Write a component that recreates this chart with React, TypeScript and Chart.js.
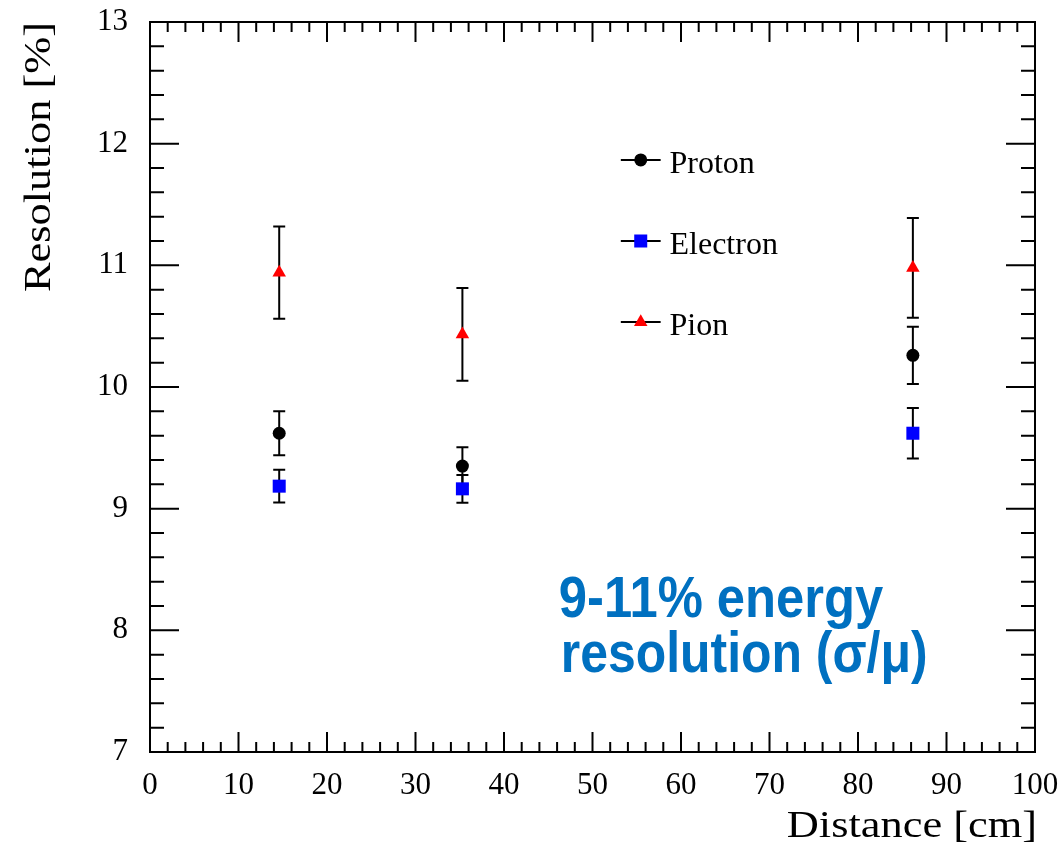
import React, { useEffect, useRef } from "react";
import { Chart, registerables } from "chart.js";
import { drawPoint } from "chart.js/helpers";

Chart.register(...registerables);

const distances = [14.6, 35.3, 86.2];
const protonValues = [9.62, 9.35, 10.26];
const protonErrors = [0.18, 0.154, 0.235];
const electronValues = [9.185, 9.163, 9.62];
const electronErrors = [0.135, 0.114, 0.208];
const pionValues = [10.94, 10.433, 10.98];
const pionErrors = [0.38, 0.381, 0.41];

const xTitle = "Distance [cm]";
const yTitle = "Resolution [%]";
const noteLines = ["9-11% energy", "resolution (σ/μ)"];

const SERIF = "'Liberation Serif', 'Times New Roman', serif";
const SANS = "'Liberation Sans', Arial, sans-serif";

const errorsByDataset = [protonErrors, electronErrors, pionErrors];

const clearPad = (s: any) => {
  s.paddingTop = 0;
  s.paddingBottom = 0;
  s.paddingLeft = 0;
  s.paddingRight = 0;
};

const rootStylePlugin = {
  id: "rootStyle",
  beforeDatasetsDraw(chart: any) {
    const ctx = chart.ctx;
    const ys = chart.scales.y;
    ctx.save();
    ctx.strokeStyle = "#000";
    ctx.lineWidth = 2;
    chart.data.datasets.forEach((ds: any, di: number) => {
      const meta = chart.getDatasetMeta(di);
      const errs = errorsByDataset[di];
      meta.data.forEach((pt: any, i: number) => {
        const v = ds.data[i].y;
        const e = errs[i];
        const yTop = ys.getPixelForValue(v + e);
        const yBot = ys.getPixelForValue(v - e);
        const x = pt.x;
        ctx.beginPath();
        ctx.moveTo(x, yTop);
        ctx.lineTo(x, yBot);
        ctx.moveTo(x - 6, yTop);
        ctx.lineTo(x + 6, yTop);
        ctx.moveTo(x - 6, yBot);
        ctx.lineTo(x + 6, yBot);
        ctx.stroke();
      });
    });
    ctx.restore();
  },
  afterDraw(chart: any) {
    const ctx = chart.ctx;
    const { left, right, top, bottom } = chart.chartArea;
    const xs = chart.scales.x;
    const ys = chart.scales.y;
    ctx.save();
    ctx.strokeStyle = "#000";
    ctx.lineWidth = 2;
    // frame
    ctx.strokeRect(left, top, right - left, bottom - top);
    // x ticks (major every 10, minor every 2)
    ctx.beginPath();
    for (let v = xs.min; v <= xs.max + 1e-9; v += 2) {
      const px = xs.getPixelForValue(v);
      const major = Math.abs(v / 10 - Math.round(v / 10)) < 1e-6;
      const len = major ? 20 : 10;
      ctx.moveTo(px, bottom);
      ctx.lineTo(px, bottom - len);
      ctx.moveTo(px, top);
      ctx.lineTo(px, top + len);
    }
    // y ticks (major every 1, minor every 0.2)
    for (let k = 0; k <= Math.round((ys.max - ys.min) / 0.2); k++) {
      const v = ys.min + k * 0.2;
      const py = ys.getPixelForValue(v);
      const major = k % 5 === 0;
      const len = major ? 29 : 14;
      ctx.moveTo(left, py);
      ctx.lineTo(left + len, py);
      ctx.moveTo(right, py);
      ctx.lineTo(right - len, py);
    }
    ctx.stroke();

    // axis titles
    ctx.fillStyle = "#000";
    ctx.font = `37px ${SERIF}`;
    ctx.textBaseline = "alphabetic";
    ctx.textAlign = "right";
    ctx.save();
    ctx.translate(right + 2, chart.height - 9);
    ctx.scale(1.2, 1);
    ctx.fillText(xTitle, 0, 0);
    ctx.restore();
    ctx.save();
    ctx.translate(50, top);
    ctx.rotate(-Math.PI / 2);
    ctx.scale(1.2, 1);
    ctx.fillText(yTitle, 0, 0);
    ctx.restore();

    // legend
    const legX0 = left + (right - left) * 0.532;
    const legX1 = left + (right - left) * 0.577;
    const legText = left + (right - left) * 0.587;
    const legY0 = top + (bottom - top) * 0.189;
    const legStep = (bottom - top) * 0.111;
    chart.data.datasets.forEach((ds: any, di: number) => {
      const y = legY0 + di * legStep;
      ctx.beginPath();
      ctx.strokeStyle = "#000";
      ctx.lineWidth = 2;
      ctx.moveTo(legX0, y);
      ctx.lineTo(legX1, y);
      ctx.stroke();
      ctx.fillStyle = ds.pointBackgroundColor;
      drawPoint(ctx, { pointStyle: ds.pointStyle, radius: ds.pointRadius, borderWidth: 0, rotation: 0 }, (legX0 + legX1) / 2, y);
      ctx.fillStyle = "#000";
      ctx.font = `32px ${SERIF}`;
      ctx.textAlign = "left";
      ctx.textBaseline = "alphabetic";
      ctx.fillText(ds.label, legText, y + 13);
    });

    // annotation
    ctx.fillStyle = "#0070C0";
    ctx.font = `bold 58px ${SANS}`;
    ctx.textAlign = "left";
    ctx.textBaseline = "alphabetic";
    const nx = xs.getPixelForValue(46.2);
    const ny = ys.getPixelForValue(8.11);
    noteLines.forEach((line, i) => {
      ctx.save();
      ctx.translate(nx + (i === 0 ? 0 : 2), ny + i * 55);
      ctx.scale(i === 0 ? 0.875 : 0.86, 1);
      ctx.fillText(line, 0, 0);
      ctx.restore();
    });
    ctx.restore();
  },
};

export default function App() {
  const canvasRef = useRef<HTMLCanvasElement | null>(null);

  useEffect(() => {
    if (!canvasRef.current) return;
    const mk = (vals: number[]) => vals.map((v, i) => ({ x: distances[i], y: v }));
    const chart = new Chart(canvasRef.current, {
      type: "scatter",
      data: {
        datasets: [
          {
            label: "Proton",
            data: mk(protonValues),
            pointStyle: "circle",
            pointRadius: 6.5,
            pointHoverRadius: 6.5,
            pointBackgroundColor: "#000000",
            pointBorderWidth: 0,
            borderWidth: 0,
          },
          {
            label: "Electron",
            data: mk(electronValues),
            pointStyle: "rect",
            pointRadius: 9.2,
            pointHoverRadius: 9.2,
            pointBackgroundColor: "#0000ff",
            pointBorderWidth: 0,
            borderWidth: 0,
          },
          {
            label: "Pion",
            data: mk(pionValues),
            pointStyle: "triangle",
            pointRadius: 7.8,
            pointHoverRadius: 7.8,
            pointBackgroundColor: "#ff0000",
            pointBorderWidth: 0,
            borderWidth: 0,
          },
        ] as any,
      },
      options: {
        responsive: false,
        animation: false,
        devicePixelRatio: 1,
        layout: { padding: { left: 0, top: 22, right: 25, bottom: 0 } },
        plugins: { legend: { display: false }, tooltip: { enabled: false } },
        events: [],
        scales: {
          x: {
            type: "linear",
            min: 0,
            max: 100,
            grid: { display: false, drawTicks: false },
            border: { display: false },
            ticks: {
              stepSize: 10,
              autoSkip: false,
              maxRotation: 0,
              color: "#000",
              padding: 15,
              font: { family: SERIF, size: 31 },
            },
            afterFit: (s: any) => {
              s.height = 94;
              clearPad(s);
            },
          },
          y: {
            type: "linear",
            min: 7,
            max: 13,
            grid: { display: false, drawTicks: false },
            border: { display: false },
            ticks: {
              stepSize: 1,
              autoSkip: false,
              color: "#000",
              padding: 22,
              font: { family: SERIF, size: 31 },
            },
            afterFit: (s: any) => {
              s.width = 150;
              clearPad(s);
            },
          },
        },
      },
      plugins: [rootStylePlugin],
    });
    return () => chart.destroy();
  }, []);

  return (
    <div style={{ position: "absolute", left: 0, top: 0, width: 1060, height: 846, background: "#fff" }}>
      <canvas ref={canvasRef} width={1060} height={846} style={{ display: "block" }} />
    </div>
  );
}
